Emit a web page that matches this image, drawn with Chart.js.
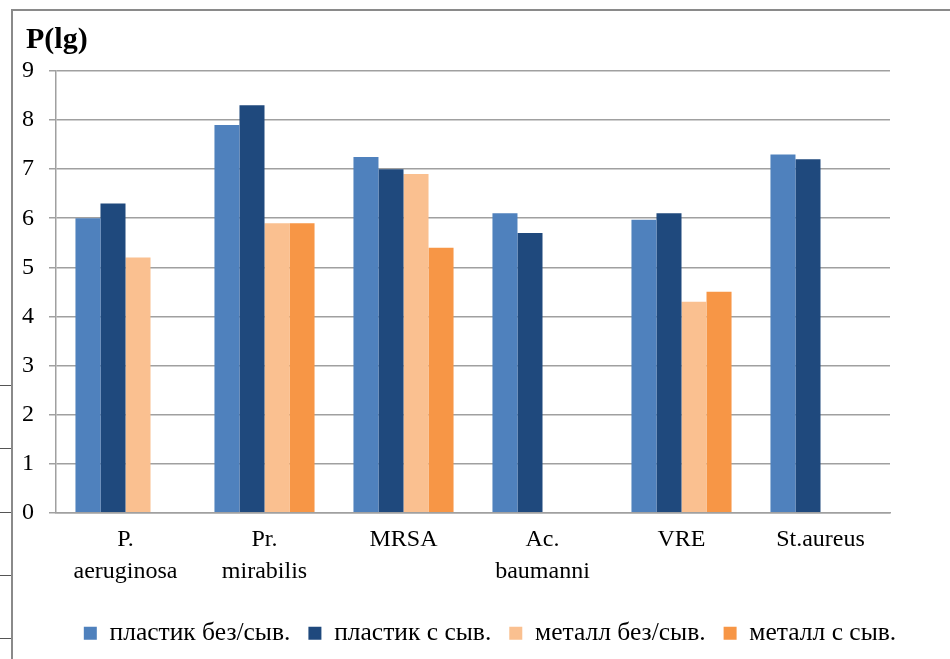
<!DOCTYPE html>
<html lang="ru">
<head>
<meta charset="utf-8">
<title>P(lg)</title>
<script src="https://cdn.jsdelivr.net/npm/chart.js@4.4.0/dist/chart.umd.min.js"></script>
<style>
  html,body{margin:0;padding:0;background:#fff;overflow:hidden;}
  #wrap{position:relative;width:950px;height:659px;overflow:hidden;}
  /* chart frame, runs off the page to the right and bottom */
  .frame{position:absolute;left:11px;top:9px;width:1000px;height:700px;
    border-left:2px solid #8a8a8a;border-top:2px solid #8a8a8a;box-sizing:border-box;}
  .stub{position:absolute;left:0;width:11px;height:1px;background:#555;}
  canvas{position:absolute;left:0;top:0;}
</style>
</head>
<body>
<div id="wrap">
  <div class="frame"></div>
  <div class="stub" style="top:385px"></div>
  <div class="stub" style="top:448px"></div>
  <div class="stub" style="top:512px"></div>
  <div class="stub" style="top:575px"></div>
  <div class="stub" style="top:638px"></div>
  <canvas id="c" width="973" height="659"></canvas>
</div>
<script>
// categories and series (log10 of counts)
const categories=[['P.','aeruginosa'],['Pr.','mirabilis'],'MRSA',['Ac.','baumanni'],'VRE','St.aureus'];
const plasticNoSerum=[6.0,7.9,7.25,6.1,5.97,7.3];
const plasticSerum=[6.3,8.3,7.0,5.7,6.1,7.2];
const metalNoSerum=[5.2,5.9,6.9,null,4.3,null];
const metalSerum=[null,5.9,5.4,null,4.5,null];
const seriesNames=['пластик без/сыв.','пластик с сыв.','металл без/сыв.','металл с сыв.'];
const seriesColors=['#4F81BD','#1F497D','#FAC090','#F79646'];
const yTicks={min:0,max:9,step:1};
const axisTitle='P(lg)';

const FONT="'Liberation Serif','Times New Roman',serif";
Chart.defaults.font.family=FONT;
Chart.defaults.color='#000';

const GRID='#a0a0a0';

// bold "P(lg)" caption in the top-left corner, above the value axis
const cornerTitle={
  id:'cornerTitle',
  afterDraw(chart){
    const c=chart.ctx;
    c.save();
    c.font='bold 30px '+FONT;
    c.fillStyle='#000';
    c.textBaseline='alphabetic';
    c.fillText(axisTitle,26,48);
    c.restore();
  }
};

const ds=[plasticNoSerum,plasticSerum,metalNoSerum,metalSerum].map((d,i)=>({
  label:seriesNames[i],data:d,backgroundColor:seriesColors[i],borderWidth:0,
  categoryPercentage:0.72,barPercentage:1,
}));

new Chart(document.getElementById('c').getContext('2d'),{
  type:'bar',
  data:{labels:categories,datasets:ds},
  options:{
    responsive:false,animation:false,
    layout:{padding:{left:7,right:0,top:71,bottom:3}},
    plugins:{
      title:{display:false},
      legend:{position:'bottom',labels:{boxWidth:13,boxHeight:13,padding:18,color:'#000',font:{size:25.5}}},
      tooltip:{enabled:false}
    },
    scales:{
      x:{
        grid:{display:false},
        border:{color:GRID,width:1.5},
        ticks:{autoSkip:false,maxRotation:0,padding:3,color:'#000',font:{size:24,lineHeight:1.33}},
        afterFit:s=>{s.height+=12;}
      },
      y:{
        min:yTicks.min,max:yTicks.max,
        ticks:{stepSize:yTicks.step,padding:15,color:'#000',font:{size:24}},
        grid:{color:GRID,lineWidth:1.5,tickLength:7},
        border:{color:GRID,width:1.5}
      },
      // empty right-hand strip so the legend sits centred like the original layout
      yPad:{type:'linear',position:'right',grid:{display:false},ticks:{display:false},border:{display:false},
        afterFit:s=>{s.width=83;}}
    }
  },
  plugins:[cornerTitle]
});
</script>
</body>
</html>
